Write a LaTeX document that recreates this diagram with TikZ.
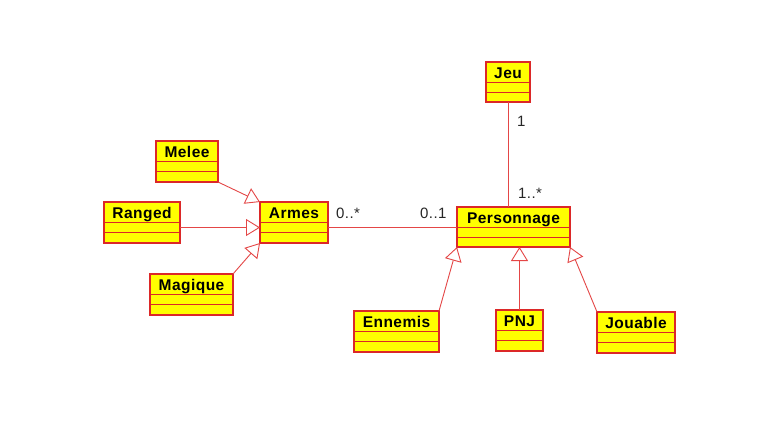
\documentclass[tikz,border=0pt]{standalone}
\usepackage{fontspec}
\usetikzlibrary{arrows.meta}
\newfontfamily\umlfont{Liberation Sans}[LetterSpace=3]
\definecolor{umlred}{RGB}{220,40,40}
\definecolor{umlline}{RGB}{228,70,70}
\definecolor{umlyellow}{RGB}{255,255,0}
\newcommand\umlclass[6]{%
  \node[clsbox, anchor=north west, minimum width={(#4-#2)*1pt}, minimum height={(#5-#3)*1pt}] (#1) at (#2,#3) {};
  \draw[clsdiv] ([yshift=-20.5pt]#1.north west) -- ([yshift=-20.5pt]#1.north east);
  \draw[clsdiv] ([yshift=-30.5pt]#1.north west) -- ([yshift=-30.5pt]#1.north east);
  \node[clstext] (#1-name) at ([yshift=-10.5pt]#1.north) {#6};
}
\tikzset{
  x=1pt, y=-1pt,
  clsbox/.style={draw=umlred, fill=umlyellow, line width=1.2pt, inner sep=0pt, outer sep=0pt},
  clsdiv/.style={draw=umlred, line width=1pt},
  clstext/.style={font=\umlfont\bfseries\fontsize{15.5pt}{18pt}\selectfont, inner sep=0pt, text height=11pt, text depth=0pt, text=black},
  mult/.style={font=\umlfont\fontsize{15pt}{18pt}\selectfont, inner sep=0pt, text height=10.5pt, text depth=0pt, text=black!85},
  assoc/.style={draw=umlline, line width=0.9pt},
  inherit/.style={draw=umlline, line width=0.9pt, -{Triangle[open, length=14pt, width=17pt, fill=white]}},
}
\begin{document}
\begin{tikzpicture}
\fill[white] (0,0) rectangle (783,420);
\useasboundingbox (0,0) rectangle (783,420);
\umlclass{melee}{156}{141}{218}{182}{Melee}
\umlclass{ranged}{104}{202}{180}{243}{Ranged}
\umlclass{armes}{260}{202}{328}{243}{Armes}
\umlclass{magique}{150}{274}{233}{315}{Magique}
\umlclass{jeu}{486}{62}{530}{102}{Jeu}
\umlclass{perso}{457}{207}{570}{247}{Personnage}
\umlclass{ennemis}{354}{311}{439}{352}{Ennemis}
\umlclass{pnj}{496}{310}{543}{351}{PNJ}
\umlclass{jouable}{597}{312}{675}{353}{Jouable}
% inheritance
\draw[inherit] (melee.south east) -- (armes.north west);
\draw[inherit] ([yshift=-5pt]ranged.east) -- ([yshift=-5pt]armes.west);
\draw[inherit] (magique.north east) -- (armes.south west);
\draw[inherit] (ennemis.north east) -- (perso.south west);
\draw[inherit] (pnj.north) -- (pnj.north |- perso.south);
\draw[inherit] (jouable.north west) -- (perso.south east);
% associations
\draw[assoc] (armes.east |- perso.west) -- (perso.west);
\draw[assoc] (jeu.south) -- (jeu.south |- perso.north);
\node[mult, anchor=west] (m1) at (336,213) {0..*};
\node[mult, anchor=west] (m2) at (420,213) {0..1};
\node[mult, anchor=west] (m3) at (517,121) {1};
\node[mult, anchor=west] (m4) at (518,193) {1..*};
\end{tikzpicture}
\end{document}
